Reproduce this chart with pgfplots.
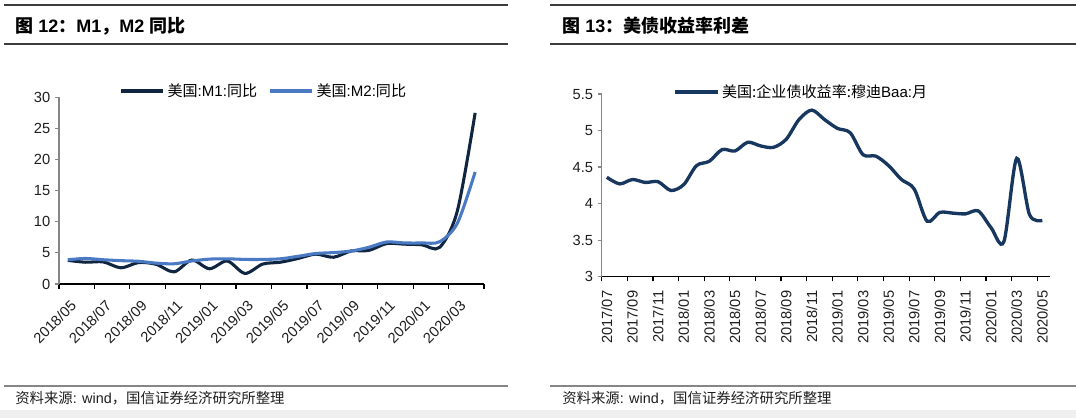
\documentclass[border=0pt]{standalone}
\usepackage{fontspec}
\setmainfont{Liberation Sans}
\newfontfamily\cjk{Noto Sans CJK SC}
\usepackage{pgfplots}
\pgfplotsset{compat=1.18}

\definecolor{mone}{RGB}{16,37,63}
\definecolor{mtwo}{RGB}{74,122,196}
\definecolor{baa}{RGB}{23,55,94}
\definecolor{axgray}{RGB}{134,134,134}
\definecolor{rulecol}{RGB}{60,60,60}
\definecolor{txt}{RGB}{30,30,30}

\pgfplotsset{
  panel/.style={
    scale only axis,
    anchor=south west,
    axis x line*=bottom,
    axis y line*=left,
    tick align=outside,
    x axis line style={black,line width=0.9pt},
    y axis line style={axgray,line width=0.9pt},
    major x tick style={draw=none},
    minor x tick style={black,line width=0.9pt},
    y tick style={axgray,line width=0.9pt},
    major tick length=3pt,
    minor tick length=3.5pt,
    tick label style={font=\fontsize{11}{11}\selectfont,text=txt},
    /pgf/number format/assume math mode=true,
    legend cell align=left,
    legend columns=-1,
    legend style={draw=none,fill=none,font=\fontsize{11.3}{11.3}\selectfont,
      /tikz/every even column/.append style={column sep=6pt}},
    legend image code/.code={\draw[##1,line width=2.5pt] (0pt,0pt) -- (32pt,0pt);},
  },
}

\newcommand\ttl[1]{{\cjk\bfseries #1}}

\begin{document}
\begin{tikzpicture}
\path[use as bounding box] (0,0) rectangle (807pt,313.5pt);
\begin{scope}[x=0.75pt,y=-0.75pt,yshift=313.5pt]
\fill[black!6] (0,410) rectangle (1076,418);
% headers and footers
\draw[rulecol,line width=0.8pt] (4,5) -- (508,5) (4,44) -- (508,44);
\draw[rulecol,line width=0.8pt] (550,5) -- (1076,5) (550,44) -- (1076,44);
\draw[axgray,line width=0.8pt] (4,386) -- (508,386) (550,386) -- (1076,386);
\node[anchor=west,inner sep=0pt] at (15,26) {\fontsize{13.5}{13.5}\selectfont\bfseries \ttl{图} 12\ttl{：}M1\ttl{，}M2 \ttl{同比}};
\node[anchor=west,inner sep=0pt] at (562,26) {\fontsize{13.5}{13.5}\selectfont\bfseries \ttl{图} 13\ttl{：美债收益率利差}};
\node[anchor=west,inner sep=0pt,text=txt] at (15,398) {\fontsize{10.8}{10.8}\selectfont {\cjk 资料来源}: wind{\cjk ，国信证券经济研究所整理}};
\node[anchor=west,inner sep=0pt,text=txt] at (562,398) {\fontsize{10.8}{10.8}\selectfont {\cjk 资料来源}: wind{\cjk ，国信证券经济研究所整理}};
\end{scope}

% M1, M2 yoy
\begin{axis}[panel,
  at={(44.25pt,100.5pt)},
  width=318.75pt, height=140pt,
  xmin=0, xmax=24, ymin=0, ymax=30,
  ytick={0,5,...,30},
  xtick={1,3,...,23},
  minor xtick={0,2,...,24},
  xticklabels={2018/05,2018/07,2018/09,2018/11,2019/01,2019/03,2019/05,2019/07,2019/09,2019/11,2020/01,2020/03},
  x tick label style={yshift=-9pt,rotate=45,anchor=east},
  legend style={at={(0.482,1.034)},anchor=center},
]
\addplot[mone,line width=2.3pt,smooth] coordinates {
  (0.5,3.8) (1.5,3.5) (2.5,3.55) (3.5,2.6) (4.5,3.45) (5.5,3.15)
  (6.5,1.95) (7.5,3.85) (8.5,2.45) (9.5,3.7) (10.5,1.7) (11.5,3.2)
  (12.5,3.5) (13.5,4.1) (14.5,4.8) (15.5,4.3) (16.5,5.3) (17.5,5.4)
  (18.5,6.5) (19.5,6.4) (20.5,6.3) (21.5,5.9) (22.5,11.8) (23.5,27.5)
};
\addlegendentry{{\cjk 美国}:M1:{\cjk 同比}}
\addplot[mtwo,line width=2.3pt,smooth] coordinates {
  (0.5,3.9) (1.5,4.1) (2.5,3.9) (3.5,3.75) (4.5,3.65) (5.5,3.35)
  (6.5,3.25) (7.5,3.7) (8.5,4.0) (9.5,4.05) (10.5,3.95) (11.5,3.95)
  (12.5,4.05) (13.5,4.45) (14.5,4.9) (15.5,5.05) (16.5,5.3) (17.5,5.9)
  (18.5,6.75) (19.5,6.6) (20.5,6.6) (21.5,6.8) (22.5,9.8) (23.5,18.0)
};
\addlegendentry{{\cjk 美国}:M2:{\cjk 同比}}
\end{axis}

% Baa spread
\begin{axis}[panel,
  at={(451.3pt,105.98pt)},
  width=336.2pt, height=137pt,
  xmin=0, xmax=35, ymin=3, ymax=5.5,
  ytick={3,3.5,...,5.5},
  xtick={0.4,2.4,...,34.4},
  minor xtick={0,2,...,34},
  xticklabels={2017/07,2017/09,2017/11,2018/01,2018/03,2018/05,2018/07,2018/09,2018/11,2019/01,2019/03,2019/05,2019/07,2019/09,2019/11,2020/01,2020/03,2020/05},
  x tick label style={yshift=-4pt,rotate=90,anchor=east},
  legend style={at={(0.446,1.011)},anchor=center},
]
\addplot[baa,line width=2.5pt,smooth] coordinates {
  (0.4,4.36) (1.4,4.27) (2.4,4.33) (3.4,4.29) (4.4,4.30) (5.4,4.18)
  (6.4,4.26) (7.4,4.52) (8.4,4.58) (9.4,4.74) (10.4,4.72) (11.4,4.84)
  (12.4,4.79) (13.4,4.77) (14.4,4.88) (15.4,5.15) (16.4,5.28) (17.4,5.15)
  (18.4,5.03) (19.4,4.97) (20.4,4.67) (21.4,4.65) (22.4,4.52) (23.4,4.33)
  (24.4,4.20) (25.4,3.76) (26.4,3.88) (27.4,3.87) (28.4,3.86) (29.4,3.90)
  (30.4,3.67) (31.4,3.48) (32.4,4.62) (33.4,3.85) (34.4,3.77)
};
\addlegendentry{{\cjk 美国:企业债收益率:穆迪}Baa:{\cjk 月}}
\end{axis}
\end{tikzpicture}
\end{document}
